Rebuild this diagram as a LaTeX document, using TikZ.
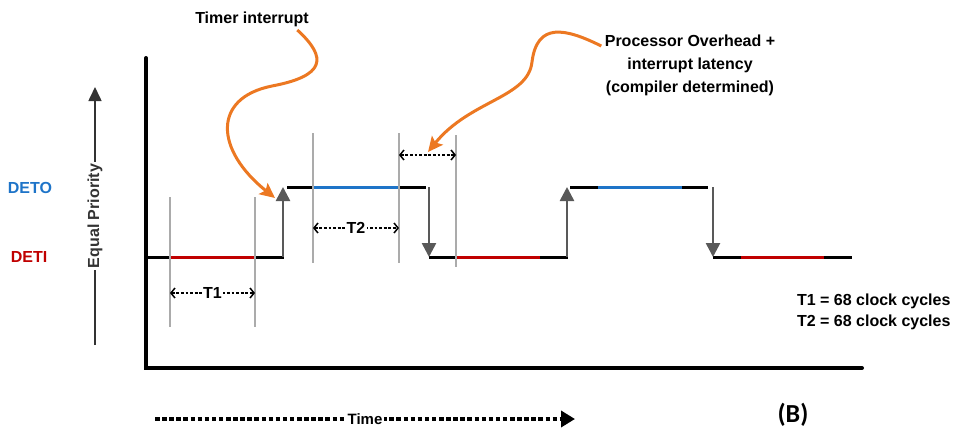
\documentclass[tikz,border=0pt]{standalone}
\usepackage{fontspec}
\setmainfont{Liberation Sans}
\newfontfamily\calib{Carlito}
\usetikzlibrary{arrows.meta,positioning,calc}
\definecolor{detired}{RGB}{192,0,0}
\definecolor{detoblue}{RGB}{30,116,200}
\definecolor{callorange}{RGB}{236,120,34}

\begin{document}
\begin{tikzpicture}[x=1pt,y=-1pt,
  font=\bfseries\fontsize{16}{23}\selectfont,
  axisline/.style={line width=4pt,line cap=round},
  level/.style={line width=3pt},
  marker/.style={black!33,line width=2.3pt},
  jump/.style={black!65,line width=2.6pt,-{Triangle[length=14pt,width=14pt]}},
  span/.style={line width=1.5pt,dash pattern=on 2.8pt off 1.8pt,
    {Straight Barb[length=4pt,width=10pt,line width=1.5pt]}-{Straight Barb[length=4pt,width=10pt,line width=1.5pt]}},
  callout/.style={callorange,line width=3pt,-{Stealth[length=15pt,width=14pt,inset=3pt]}},
  lbl/.style={fill=white,inner sep=1.5pt}]
  \useasboundingbox (0,0) rectangle (954,429);
  \draw[axisline] (146,58) -- (146,368) -- (862,368);

  \coordinate (pbot) at (95,345);
  \coordinate (ptop) at (95,87);
  \draw[black!80,line width=1.6pt,-{Triangle[length=14pt,width=13pt]}]
    (pbot) -- node[lbl,rotate=90]{Equal Priority} (ptop);
  \node[detoblue] (deto) at (30,188) {DETO};
  \node[detired] (deti) at (29,257) {DETI};

  \foreach \a/\b/\c/\y in {146/170/black/257, 170/255/detired/257, 255/284/black/257,
      287/313/black/187, 313/398/detoblue/187, 398/426/black/187,
      429/455/black/257, 455/540/detired/257, 540/568/black/257,
      570/598/black/187, 598/682/detoblue/187, 682/708/black/187,
      713/741/black/257, 741/824/detired/257, 824/852/black/257}
    \draw[level,\c] (\a,\y) -- (\b,\y);

  \foreach \x/\f/\t [count=\i] in {283/257/187, 429/187/257, 567/257/187, 713/187/257} {
    \coordinate (j\i a) at (\x,\f);
    \coordinate (j\i b) at (\x,\t);
    \draw[jump] (j\i a) -- (j\i b);
  }

  \foreach \x/\t/\b in {170/197/327, 255/197/327, 313/133/263, 399/133/263, 456/135/267}
    \draw[marker] (\x,\t) -- (\x,\b);

  \foreach \n/\a/\b/\y in {T1/170/255/293, T2/313/399/228} {
    \coordinate (\n l) at (\a,\y);
    \coordinate (\n r) at (\b,\y);
    \draw[span] (\n l) -- node[lbl]{\n} (\n r);
  }
  \coordinate (ohl) at (399,155);
  \coordinate (ohr) at (456,155);
  \draw[span] (ohl) -- (ohr);

  \node (timer) at (252,19) {Timer interrupt};
  \node[align=center] (ovh) at (690,65) {Processor Overhead +\\interrupt latency\\(compiler determined)};
  \coordinate (hitA) at (275,198);
  \coordinate (hitB) at (428,152);
  \draw[callout] ([xshift=-15pt]timer.south east) .. controls (328,58) and (325,76) .. (272,86)
    .. controls (212,98) and (215,150) .. (hitA);
  \draw[callout] ($(ovh.north west)+(0,15)$) .. controls (565,28) and (537,22) .. (532,62)
    .. controls (528,98) and (470,100) .. (hitB);

  \node[anchor=east,align=right,font=\bfseries\fontsize{16}{21}\selectfont] (cycles) at (954,312)
    {T1 = 68 clock cycles\\T2 = 68 clock cycles};

  \coordinate (tstart) at (155,419);
  \coordinate (tend) at (575,419);
  \draw[line width=3.5pt,dash pattern=on 4.5pt off 2.6pt,-{Triangle[length=14pt,width=16pt]}]
    (tstart) -- node[lbl,font=\bfseries\fontsize{15}{15}\selectfont]{Time} (tend);
  \node[font=\calib\bfseries\fontsize{26}{26}\selectfont] (fig) at (793,415) {(B)};
\end{tikzpicture}
\end{document}
